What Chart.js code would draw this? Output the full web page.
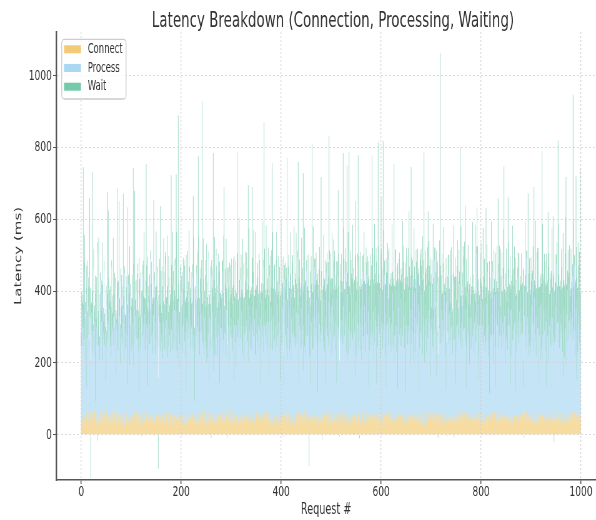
<!DOCTYPE html>
<html><head><meta charset="utf-8">
<script src="https://cdn.jsdelivr.net/npm/chart.js@4"></script>
<style>html,body{margin:0;padding:0;background:#fff;overflow:hidden}#c{display:block;width:596px;height:520px}</style>
</head><body><canvas id="c" width="954" height="520" style="width:596px;height:520px"></canvas>
<script>
const seriesNames = ['Connect', 'Process', 'Wait'];
const xTickValues = [0, 200, 400, 600, 800, 1000];
const yTickValues = [0, 200, 400, 600, 800, 1000];

const connectMs = [
34,52,28,45,61,39,22,47,55,31,43,66,29,50,38,57,25,44,63,36,
48,30,59,41,27,53,46,70,33,40,58,24,49,62,35,44,51,29,67,42,
37,55,26,48,64,32,45,58,21,50,41,69,34,47,56,28,43,60,39,52,
30,46,62,35,54,27,49,71,38,44,57,31,48,25,59,42,36,65,47,33,
56,40,29,51,67,36,43,24,58,45,32,61,39,53,28,47,74,35,50,41,
44,63,31,49,26,55,38,60,46,29,52,68,34,42,57,23,48,64,37,51,
27,45,59,33,50,72,41,36,54,30,47,62,25,56,39,44,61,32,48,53,
40,57,35,46,28,63,51,38,66,43,31,55,49,24,58,45,37,60,34,52,
61,29,48,54,37,42,69,33,50,27,46,59,40,53,31,64,44,36,57,26,
49,38,65,30,56,43,27,52,47,61,34,45,58,29,50,41,70,37,55,32,
35,58,42,26,53,47,62,31,45,39,56,28,51,67,36,44,59,33,48,40,
53,30,46,60,38,25,57,43,34,64,49,32,55,41,28,62,46,37,50,59,
28,47,63,39,52,34,45,71,30,56,42,27,58,48,35,60,33,51,44,66,
46,62,33,50,29,55,41,36,68,45,53,31,47,24,59,38,52,43,61,35,
57,36,49,44,65,30,52,39,27,58,46,62,35,50,42,73,31,55,38,47,
33,51,28,59,42,47,64,35,53,40,29,56,45,61,37,48,26,57,43,50,
62,39,54,31,46,58,37,49,70,33,44,52,28,60,41,35,55,47,63,30,
41,56,35,48,27,61,45,32,57,50,38,66,43,29,54,46,59,36,49,44,
50,33,60,42,55,38,29,63,47,34,58,41,52,26,67,45,37,53,31,48,
36,64,45,29,51,43,59,34,48,62,27,55,40,57,33,49,44,68,38,52,
55,40,31,58,37,66,46,53,30,44,61,35,49,42,28,56,63,39,47,34,
29,52,47,36,62,41,54,27,58,45,33,60,48,38,65,31,50,43,57,46,
63,34,56,49,30,45,38,67,42,53,29,51,44,59,36,48,72,33,55,40,
42,59,37,52,46,28,61,45,35,56,48,31,64,39,53,27,47,58,34,50,
48,31,65,40,54,36,47,58,29,62,43,55,37,49,26,60,41,53,45,68,
37,57,43,29,50,64,32,46,55,38,60,44,27,52,47,35,59,42,66,30,
59,44,28,53,39,47,70,36,51,42,33,57,48,61,30,45,54,38,49,26,
32,49,61,45,57,30,43,52,38,65,47,29,56,40,63,34,48,55,31,44,
54,38,46,67,33,58,41,29,50,45,62,36,53,27,48,59,42,35,57,47,
45,62,30,51,43,36,55,48,69,32,40,58,34,50,44,61,28,53,39,56,
31,47,58,38,64,42,26,55,46,33,52,67,41,49,30,57,45,36,60,43,
60,35,50,44,29,56,48,39,62,51,37,45,58,28,54,42,65,33,47,53,
43,56,34,61,47,38,53,30,45,59,28,50,42,66,37,55,31,48,40,57,
52,28,45,57,36,63,40,49,33,54,46,38,60,44,51,29,56,41,68,35,
38,60,51,33,48,42,58,27,55,43,64,31,47,53,36,45,59,30,50,62,
47,35,62,40,53,29,46,57,41,36,50,63,33,48,55,39,44,61,28,52,
65,42,30,55,38,49,61,34,47,53,28,44,58,37,51,43,32,57,46,39,
29,53,47,36,59,44,33,50,63,40,56,31,45,52,38,67,42,35,54,48,
56,37,44,62,31,50,46,58,35,41,64,39,53,27,49,45,60,36,51,43,
41,58,35,48,54,27,62,43,50,37,46,59,32,55,44,38,57,49,30,63,
50,32,57,43,36,61,45,30,52,48,39,55,66,34,47,41,58,29,53,45,
35,54,46,59,28,47,40,63,37,51,44,33,56,49,61,36,45,52,38,57,
62,41,33,50,55,38,58,46,31,60,43,53,35,47,29,56,42,64,37,49,
44,59,51,32,46,65,36,54,42,28,57,48,40,61,33,50,45,38,55,47,
53,36,42,58,39,48,30,61,45,56,34,67,43,37,52,46,59,31,49,40,
30,55,64,37,50,43,57,35,48,62,41,29,54,46,38,60,33,51,44,58,
58,40,35,52,47,31,63,44,56,38,50,45,27,59,42,53,36,48,65,34,
46,61,39,45,33,57,49,41,28,54,62,37,51,43,58,32,47,55,39,60,
39,48,56,30,62,44,52,36,59,47,33,50,45,57,40,64,31,53,46,37,
54,33,47,60,41,53,38,65,44,50,36,58,42,29,55,48,61,35,52,45
];

const processMs = [
210,195,320,250,185,260,430,220,280,175,350,65,240,390,240,300,210,285,260,170,
230,310,230,190,260,405,175,245,60,330,195,275,250,440,215,205,290,180,360,225,
275,260,180,345,220,235,410,190,265,100,315,175,230,270,250,380,245,290,205,220,
185,420,240,255,195,300,210,260,370,125,235,280,240,210,325,190,275,265,150,395,
240,230,355,200,285,275,160,425,180,240,210,310,105,225,390,250,265,160,335,195,
300,170,220,260,165,395,215,290,285,250,345,200,230,415,175,245,65,320,205,240,
260,285,215,410,230,235,195,300,180,365,220,245,270,80,330,195,250,220,440,205,
345,215,250,180,305,270,225,390,160,270,235,320,195,425,100,285,210,255,200,260,
220,230,385,160,275,195,340,205,245,450,185,260,175,310,215,230,365,240,170,290,
245,250,280,205,360,200,235,295,425,175,310,190,255,185,240,330,115,215,385,260,
205,340,185,270,255,310,400,230,240,180,65,295,215,245,355,250,210,420,190,275,
250,265,195,380,240,205,290,50,335,170,225,415,235,260,305,190,240,185,345,220,
310,240,285,220,195,365,180,255,230,400,200,175,320,165,245,430,115,275,195,250,
225,380,210,290,150,210,335,185,260,175,445,240,300,195,220,270,365,100,235,315,
175,260,235,410,200,195,340,245,250,310,170,285,215,375,220,230,165,395,240,255,
290,220,240,175,330,245,85,270,205,420,160,250,355,210,285,195,260,315,225,380,
240,305,210,195,255,385,170,230,220,345,275,250,410,200,160,325,190,240,180,300,
265,180,320,240,395,210,230,290,165,175,310,215,355,230,250,185,420,255,275,100,
195,340,215,260,175,430,285,240,225,310,195,270,185,365,250,245,125,390,210,265,
320,255,245,205,280,200,375,230,255,170,440,190,230,305,245,265,185,350,115,240,
340,210,225,295,185,70,265,380,250,230,315,205,160,255,415,235,290,195,345,220,
175,270,400,245,225,310,195,245,185,360,230,280,205,455,270,115,320,260,235,195,
290,215,235,375,150,260,195,180,330,170,245,405,240,215,300,220,265,185,350,100,
235,255,340,185,195,300,215,420,260,270,225,345,190,80,285,230,375,250,255,205,
230,380,245,265,205,210,330,175,295,85,250,395,260,225,220,310,220,435,240,270,
185,300,190,350,215,265,425,230,260,195,320,100,275,390,250,245,205,165,340,235,
260,230,295,200,320,210,370,240,255,285,420,175,160,330,195,250,185,305,240,215,
250,345,210,220,265,400,180,235,300,95,325,190,255,440,180,275,215,360,205,265,
300,170,255,385,240,215,195,330,180,270,220,410,225,250,295,75,345,200,260,230,
205,360,240,235,300,180,415,210,250,325,260,85,280,195,290,240,365,230,175,405,
285,250,330,200,245,220,265,390,175,305,80,235,345,260,220,430,235,290,190,255,
170,275,205,350,215,290,155,235,420,230,265,185,340,100,300,210,380,245,250,195,
335,190,260,215,395,265,280,210,75,310,240,255,425,185,265,230,225,355,160,290,
240,225,305,380,170,220,195,345,195,270,235,410,250,260,315,85,290,200,365,245,
250,330,215,190,280,405,245,175,310,230,260,195,360,215,310,225,255,385,240,100,
275,260,350,205,225,295,185,430,245,255,320,100,240,375,170,285,210,235,225,340,
190,305,240,265,415,210,230,355,175,285,95,325,200,250,395,245,220,280,215,260,
320,245,255,190,365,220,290,215,80,340,175,270,405,255,230,300,230,385,195,250,
205,275,195,350,260,245,425,240,230,310,185,90,295,370,235,220,265,160,340,205,
285,180,330,225,240,395,165,270,205,300,215,445,260,250,320,185,95,255,375,240,
260,340,205,260,210,295,375,245,240,185,220,310,230,420,170,265,200,85,330,235,
245,220,290,395,175,230,240,325,210,85,280,360,250,255,180,305,410,225,235,270,
330,195,240,260,380,205,225,285,165,350,215,220,270,190,325,250,395,240,100,295,
175,290,360,230,245,200,410,255,275,95,320,185,240,375,240,265,210,305,220,350,
260,245,315,225,95,380,180,270,230,340,205,425,260,290,165,235,350,215,280,190,
230,305,240,395,260,270,175,345,210,215,285,190,430,250,260,80,320,225,165,300,
310,200,170,225,355,240,285,245,400,195,265,90,330,215,160,375,235,255,185,290,
195,335,215,280,245,170,390,215,240,305,230,440,260,270,255,225,350,185,295,210,
270,240,365,200,100,310,235,180,420,250,160,285,215,345,225,250,390,265,230,305,
245,290,215,380,225,235,260,405,175,240,315,95,335,200,250,285,365,220,170,250
];

const waitMs = [
40,150,20,95,499,65,30,290,35,120,15,340,75,45,160,55,30,330,85,-120,
85,30,443,170,20,60,120,45,350,25,70,140,-17,35,95,300,50,65,25,130,
35,115,330,25,70,50,30,90,15,200,60,45,130,360,319,30,80,55,170,100,
140,20,85,50,300,65,40,120,30,165,55,10,399,190,45,80,340,50,110,35,
60,175,30,110,320,75,140,20,95,50,200,40,490,85,25,150,55,330,35,70,
40,125,195,70,552,25,100,330,45,150,35,80,185,20,115,60,380,50,90,160,
-5,70,130,30,205,80,330,45,145,35,487,165,60,360,45,105,75,195,25,90,
35,210,80,155,50,320,100,25,185,70,300,40,130,20,-95,60,115,175,403,50,
175,80,35,200,60,310,45,125,215,20,150,65,340,50,95,205,30,85,165,55,
429,185,70,330,40,130,225,55,20,150,382,330,65,165,600,50,200,90,30,135,
115,45,225,65,185,50,25,210,85,160,380,60,130,200,35,75,300,15,170,65,
150,70,130,35,387,320,60,205,45,140,95,25,220,80,443,300,55,160,40,185,
60,200,582,105,300,35,145,75,185,30,115,330,50,170,85,20,215,65,125,155,
-8,45,220,70,606,120,55,330,80,175,20,200,70,135,225,60,35,340,100,45,
160,85,205,30,130,330,298,75,185,50,330,60,-10,40,205,110,175,30,195,80,
70,220,95,175,45,200,350,80,145,25,190,90,387,235,55,130,320,60,115,35,
200,60,130,320,80,35,170,105,220,50,85,205,25,145,494,55,330,95,160,65,
85,175,335,205,30,300,115,65,185,340,55,135,40,220,90,160,25,195,75,225,
150,50,320,95,190,20,557,215,110,60,330,80,170,45,205,100,225,30,130,185,
55,195,467,330,75,165,35,210,95,175,20,320,120,65,220,85,150,50,235,110,
205,145,235,70,-5,360,100,40,200,130,60,225,564,80,25,210,75,175,55,310,
180,85,35,220,130,60,330,110,190,45,300,80,155,20,425,215,65,185,115,145,
70,300,120,40,549,95,185,330,60,205,100,30,215,140,65,235,-87,165,50,220,
220,105,433,160,340,70,145,25,195,90,235,55,170,330,80,125,40,215,85,150,
440,45,-14,100,155,310,60,200,75,340,115,30,210,145,235,70,571,25,220,95,
170,80,330,55,140,215,25,235,90,185,65,340,105,40,384,225,150,-5,70,130,
110,230,75,175,426,320,50,130,215,80,30,195,543,60,340,120,548,70,225,150,
205,55,165,320,100,35,205,145,312,340,70,185,115,25,536,95,235,-10,170,200,
80,205,120,45,230,155,330,70,190,105,240,35,145,220,90,350,55,180,115,225,
170,50,509,235,90,205,30,330,130,65,220,340,105,180,481,225,55,140,195,40,
348,220,75,165,509,310,125,40,200,80,360,150,65,225,130,25,240,95,185,115,
220,105,330,60,175,90,551,140,35,235,115,200,70,350,80,170,45,230,135,180,
85,200,130,320,40,225,105,165,360,70,150,215,30,190,110,235,367,65,210,95,
454,240,95,50,205,150,340,75,180,110,235,35,140,215,80,350,105,175,55,225,
230,80,165,330,105,40,484,200,85,240,140,190,65,255,277,160,225,55,135,330,
125,60,75,175,310,25,205,35,235,65,85,350,15,60,-8,115,50,245,811,80,
190,45,235,75,25,320,105,30,215,60,370,40,-5,155,55,150,250,70,105,215,
95,225,40,125,25,320,-8,175,350,60,210,75,20,235,85,60,245,35,552,90,
320,75,120,40,235,95,25,240,372,60,135,360,70,30,245,100,80,225,50,115,
65,175,50,320,110,25,185,80,330,35,135,20,342,220,70,150,250,85,30,200,
225,50,150,75,330,60,20,215,90,180,372,45,235,25,185,85,145,370,55,115,
100,320,65,30,205,120,235,45,150,370,75,35,220,105,418,60,20,250,85,190,
50,160,235,90,30,330,465,75,200,40,140,245,65,175,308,230,25,115,360,70,
185,80,35,320,125,195,20,215,70,370,55,160,105,30,235,85,250,60,145,45,
100,225,60,140,330,30,-8,85,320,50,175,20,210,70,456,125,40,245,75,160,
235,70,145,25,215,90,458,50,160,320,80,190,25,225,110,380,60,135,205,80,
80,180,586,310,45,130,85,215,25,190,100,370,60,155,418,40,235,90,200,75,
195,60,320,85,331,220,-20,145,235,65,130,25,225,100,507,330,50,175,80,160,
95,230,45,180,400,70,145,200,25,310,525,85,155,55,250,125,30,210,110,65,
220,85,165,35,681,310,115,30,205,140,369,370,60,180,230,80,45,255,518,105
];

const requestIds = connectMs.map((_, i) => i);

const FONT = '"DejaVu Sans", sans-serif';
Chart.defaults.font.family = FONT;

const legendBox = {
  id: 'legendBox',
  afterDraw(chart) {
    const ctx = chart.ctx, a = chart.chartArea;
    const x0 = a.left + 8.8, y0 = a.top + 7.3, w = 103, h = 59.7;
    ctx.save();
    ctx.beginPath();
    ctx.roundRect(x0, y0, w, h, 4);
    ctx.fillStyle = 'rgba(255,255,255,0.8)';
    ctx.fill();
    ctx.lineWidth = 1.3;
    ctx.strokeStyle = '#cccccc';
    ctx.stroke();
    ctx.font = '13.5px ' + FONT;
    ctx.textBaseline = 'middle';
    ctx.textAlign = 'left';
    chart.data.datasets.forEach((ds, k) => {
      const cy = y0 + 10 + k * 18.7;
      ctx.fillStyle = ds.backgroundColor;
      ctx.fillRect(x0 + 3.7, cy - 4, 27, 8);
      ctx.fillStyle = '#333';
      ctx.fillText(ds.label, x0 + 41.6, cy);
    });
    ctx.restore();
  }
};

const titleShift = {
  id: 'titleShift',
  afterLayout(chart) {
    const t = chart.titleBlock;
    if (t) { t.left += 11; t.right += 11; }
  }
};

const colors = ['#F3CB76', '#AAD7F1', '#74CAAA'];
const seriesData = [connectMs, processMs, waitMs];

new Chart(document.getElementById('c'), {
  type: 'bar',
  data: {
    labels: requestIds,
    datasets: seriesNames.map((name, k) => ({
      label: name,
      data: seriesData[k],
      backgroundColor: colors[k],
      borderWidth: 0,
      barPercentage: 1,
      categoryPercentage: 0.8
    }))
  },
  options: {
    responsive: false,
    animation: false,
    devicePixelRatio: 1,
    layout: { padding: { left: 0, right: 0, top: 0, bottom: 0 } },
    plugins: {
      title: {
        display: true,
        text: 'Latency Breakdown (Connection, Processing, Waiting)',
        fullSize: false,
        color: '#333',
        font: { family: FONT, size: 21.5, weight: 'normal', lineHeight: 1 },
        padding: { top: 10.5, bottom: 0 }
      },
      legend: { display: false },
      tooltip: { enabled: false }
    },
    scales: {
      x: {
        type: 'linear',
        stacked: true,
        offset: false,
        min: -50, max: 1030,
        afterBuildTicks: s => { s.ticks = xTickValues.map(v => ({ value: v })); },
        afterFit: s => { s.height = 40; },
        grid: { offset: false, z: 1, color: '#d0d0d0', lineWidth: 1.3, tickLength: 4, tickColor: '#555', tickWidth: 1.6, tickBorderDash: [] },
        border: { display: true, color: '#555', width: 1.5, dash: [2, 2], z: 1 },
        ticks: { color: '#333', padding: 0, font: { family: FONT, size: 14.5 }, maxRotation: 0, autoSkip: false, callback: v => String(v) },
        title: { display: true, text: 'Request #', color: '#333', font: { family: FONT, size: 15.5 }, padding: { top: 0, bottom: 1 } }
      },
      y: {
        type: 'linear',
        stacked: true,
        min: -126, max: 1122,
        afterBuildTicks: s => { s.ticks = yTickValues.map(v => ({ value: v })); },
        afterFit: s => { s.width = 90; },
        grid: { z: 1, color: '#d0d0d0', lineWidth: 0.8, tickLength: 5, tickColor: '#555', tickWidth: 1, tickBorderDash: [] },
        border: { display: true, color: '#555', width: 2.4, dash: [3.2, 3.2], z: 1 },
        ticks: { color: '#333', padding: 2, font: { family: FONT, size: 14.5 }, autoSkip: false, callback: v => String(v) },
        title: { display: true, text: 'Latency (ms)', color: '#333', font: { family: FONT, size: 15 }, padding: { top: 21, bottom: 0 } }
      }
    }
  },
  plugins: [legendBox, titleShift]
});
</script>
</body></html>
